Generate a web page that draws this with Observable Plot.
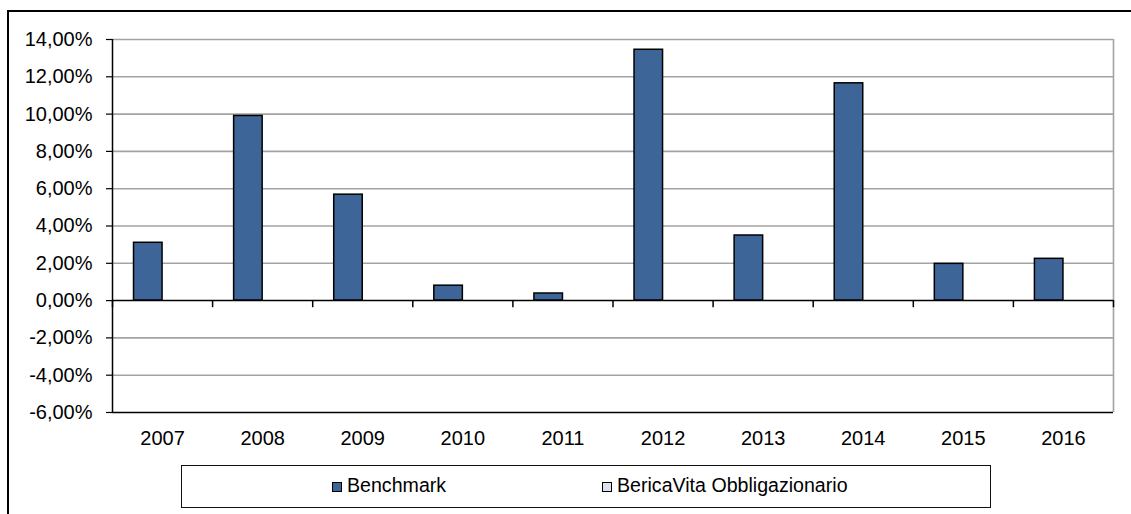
<!DOCTYPE html>
<html>
<head>
<meta charset="utf-8">
<script src="https://cdn.jsdelivr.net/npm/d3@7"></script>
<script src="https://cdn.jsdelivr.net/npm/@observablehq/plot@0.6"></script>
<style>
  html, body { margin: 0; padding: 0; background: #fff; }
  body { width: 1131px; height: 514px; position: relative; overflow: hidden; font-family: "Liberation Sans", Arial, sans-serif; }
  #frame { position: absolute; left: 7px; top: 10px; width: 1140px; height: 520px; border-top: 2px solid #000; border-left: 2px solid #000; box-sizing: border-box; }
  #chart { position: absolute; left: 0; top: 0; }
  #legend { position: absolute; left: 181px; top: 465px; width: 810px; height: 43px; box-sizing: border-box; border: 1.5px solid #111; background: #fff; }
  .item { position: absolute; top: 9px; font-size: 19.6px; line-height: 20px; color: #000; white-space: nowrap; }
  .sw { display: inline-block; width: 8px; height: 8px; border: 1px solid #000; margin-right: 5px; vertical-align: 0px; }
</style>
</head>
<body>
<div id="chart"></div>
<div id="frame"></div>
<div id="legend"></div>
<script>
// ---- data ----
const years = ["2007", "2008", "2009", "2010", "2011", "2012", "2013", "2014", "2015", "2016"];
const benchmark = [3.10, 9.90, 5.68, 0.80, 0.38, 13.45, 3.49, 11.65, 1.97, 2.24];
const bericaVita = [null, null, null, null, null, null, null, null, null, null];
const seriesNames = ["Benchmark", "BericaVita Obbligazionario"];
const seriesColors = ["#3E6598", "#DDE3EE"];
const yTicks = [-6, -4, -2, 0, 2, 4, 6, 8, 10, 12, 14];

// ---- layout helpers (style) ----
const barWidth = 0.285;            // fraction of a category slot per series bar
const groupStart = 0.5 - barWidth; // clustered group centred in slot

const rows = [];
years.forEach((y, i) => {
  rows.push({year: y, i, series: seriesNames[0], value: benchmark[i], k: 0});
  rows.push({year: y, i, series: seriesNames[1], value: bericaVita[i], k: 1});
});
const drawn = rows.filter(d => d.value != null);

const fmt = d => d.toFixed(2).replace(".", ",") + "%";
const n = years.length;

const plot = Plot.plot({
  width: 1131,
  height: 460,
  marginTop: 39,
  marginBottom: 48,
  marginLeft: 112,
  marginRight: 18,
  style: {background: "transparent", fontFamily: "'Liberation Sans', Arial, sans-serif", fontSize: "20px", color: "#000"},
  x: {domain: [0, n], axis: null, label: null},
  y: {domain: [-6, 14], axis: null, label: null},
  color: {domain: seriesNames, range: seriesColors},
  marks: [
    Plot.gridY(yTicks.filter(t => t !== -6 && t !== 0), {stroke: "#a3a3a3", strokeOpacity: 1, strokeWidth: 1.6}),
    Plot.ruleX([n], {stroke: "#a3a3a3", strokeWidth: 1.6}),
    Plot.rectY(drawn, {
      x1: d => d.i + groupStart + d.k * barWidth,
      x2: d => d.i + groupStart + (d.k + 1) * barWidth,
      y1: 0,
      y2: "value",
      fill: "series",
      stroke: "#000",
      strokeWidth: 1.5
    }),
    Plot.ruleY([0], {stroke: "#000", strokeWidth: 1.5}),
    Plot.ruleX(d3.range(n + 1), {y1: 0, y2: -0.38, stroke: "#000", strokeWidth: 1.5}),
    Plot.ruleY([-6], {stroke: "#000", strokeWidth: 1.5}),
    Plot.ruleX([0], {stroke: "#000", strokeWidth: 1.5}),
    Plot.axisY({ticks: yTicks, tickFormat: fmt, tickSize: 6, tickPadding: 14, fontSize: 20, stroke: "#000", strokeWidth: 1.2, label: null}),
    Plot.axisX({ticks: d3.range(n).map(i => i + 0.5), tickFormat: v => years[Math.floor(v)], tickSize: 0, tickPadding: 18, fontSize: 20, anchor: "bottom", label: null})
  ]
});
document.getElementById("chart").appendChild(plot);

// ---- legend ----
const legend = document.getElementById("legend");
const legendLeft = [150, 420];
seriesNames.forEach((name, k) => {
  const it = document.createElement("div");
  it.className = "item";
  it.style.left = legendLeft[k] + "px";
  const sw = document.createElement("span");
  sw.className = "sw";
  sw.style.background = seriesColors[k];
  it.appendChild(sw);
  it.appendChild(document.createTextNode(name));
  legend.appendChild(it);
});
</script>
</body>
</html>
